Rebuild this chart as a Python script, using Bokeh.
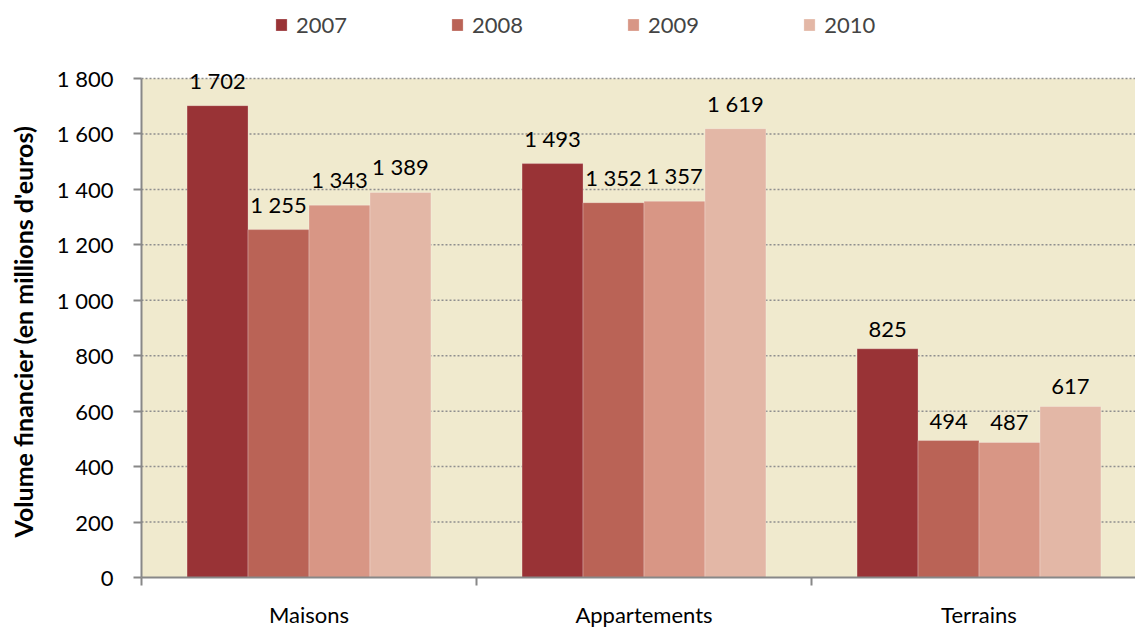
import math
from bokeh.plotting import figure
from bokeh.models import (ColumnDataSource, FixedTicker, Legend, LegendItem,
                          Range1d, LabelSet, BoxAnnotation, Label)
from bokeh.transform import dodge
from bokeh.core.properties import value
from bokeh.embed import file_html
from bokeh.resources import INLINE

categories = ["Maisons", "Appartements", "Terrains"]
years = ["2007", "2008", "2009", "2010"]
v2007 = [1702, 1493, 825]
v2008 = [1255, 1352, 494]
v2009 = [1343, 1357, 487]
v2010 = [1389, 1619, 617]
y_ticks = [0, 200, 400, 600, 800, 1000, 1200, 1400, 1600, 1800]
y_title = "Volume financier  (en millions d'euros)"

colors = ["#993336", "#BA6356", "#D89685", "#E3B7A6"]
BG = "#F0EACE"
AXIS_C = "#888888"
FONT = "Lato"
Y_MAX = 1800

# layout (pixels)
W, H = 1135, 631
PLOT_LEFT = 141      # where the plotting area starts
GROUP_PX = 335       # width of one category group
AXIS_Y = 577         # pixel row of the x axis
TOP_Y = 78           # pixel row of Y_MAX


def fmt(v):
    return f"{v:,}".replace(",", " ")


series = [v2007, v2008, v2009, v2010]
centers = [i + 0.5 for i in range(len(categories))]
data = {"x": centers}
for yr, vals in zip(years, series):
    data["v" + yr] = vals
    data["t" + yr] = [fmt(v) for v in vals]
source = ColumnDataSource(data)

px_per_unit = (AXIS_Y - TOP_Y) / Y_MAX
x_start = -PLOT_LEFT / GROUP_PX
x_end = (W - PLOT_LEFT) / GROUP_PX
y_start = -(H - AXIS_Y) / px_per_unit
y_end = AXIS_Y / px_per_unit

p = figure(width=W, height=H, output_backend="svg", toolbar_location=None,
           x_range=Range1d(x_start, x_end), y_range=Range1d(y_start, y_end),
           min_border=0, background_fill_color="white",
           border_fill_color="white", outline_line_color=None)

p.add_layout(BoxAnnotation(left=0, bottom=0, top=Y_MAX, fill_color=BG,
                           fill_alpha=1, line_color=None, level="image"))

# dotted gridlines over the plotting area only
p.segment(x0=0, x1=x_end, y0=y_ticks[1:], y1=y_ticks[1:], line_color="#8f8f8f",
          line_dash="2 2", line_width=1.5, level="underlay")

bw = 0.182
offsets = [-1.5 * bw, -0.5 * bw, 0.5 * bw, 1.5 * bw]
items = []
for yr, col, off in zip(years, colors, offsets):
    r = p.vbar(x=dodge("x", off, range=p.x_range), top="v" + yr, width=bw,
               source=source, fill_color=col, line_color="white",
               line_alpha=0.25, line_width=1)
    items.append(LegendItem(label=yr, renderers=[r]))
    labels = LabelSet(x=dodge("x", off, range=p.x_range), y="v" + yr,
                      text="t" + yr, source=source, text_align="center",
                      text_baseline="bottom", y_offset=12,
                      text_font=value(FONT), text_font_size="22px",
                      text_color="black")
    p.add_layout(labels)

# x axis, pinned at y = 0
ax = p.xaxis[0]
ax.fixed_location = 0
ax.bounds = (0, x_end)
ax.ticker = FixedTicker(ticks=centers, minor_ticks=[0, 1, 2, 3])
ax.major_label_overrides = {c: n for c, n in zip(centers, categories)}
ax.major_tick_out = 0
ax.major_tick_in = 0
ax.minor_tick_out = 8
ax.minor_tick_in = 0
ax.minor_tick_line_color = AXIS_C
ax.minor_tick_line_width = 2
ax.axis_line_color = AXIS_C
ax.axis_line_width = 2
ax.major_label_standoff = 15
ax.major_label_text_font = FONT
ax.major_label_text_font_size = "22px"
ax.major_label_text_color = "black"

# y axis, pinned at the left edge of the plotting area
ay = p.yaxis[0]
ay.fixed_location = 0
ay.ticker = FixedTicker(ticks=y_ticks, minor_ticks=[])
ay.bounds = (0, Y_MAX)
ay.major_label_overrides = {t: fmt(t) for t in y_ticks}
ay.major_tick_out = 8
ay.major_tick_in = 0
ay.major_tick_line_color = AXIS_C
ay.major_tick_line_width = 2
ay.axis_line_color = AXIS_C
ay.axis_line_width = 2
ay.major_label_standoff = 20
ay.major_label_text_font = FONT
ay.major_label_text_font_size = "22px"
ay.major_label_text_color = "black"

# y axis title
lab_x = (22 - PLOT_LEFT) / GROUP_PX
lab_y = (AXIS_Y - 328) / px_per_unit
p.add_layout(Label(x=lab_x, y=lab_y, text=y_title, angle=math.pi / 2,
                   text_align="center", text_baseline="middle",
                   text_font=FONT, text_font_size="25px",
                   text_font_style="bold", text_color="black"))

p.xgrid.visible = False
p.ygrid.visible = False

legend = Legend(items=items, orientation="horizontal",
                location=(274, H - 38),
                glyph_width=14, glyph_height=15, label_standoff=8, spacing=103,
                padding=0, margin=0, border_line_color=None,
                background_fill_alpha=0, label_text_font=FONT,
                label_text_font_size="22px", label_height=15)
p.add_layout(legend)

open("out.html", "w").write(file_html(p, INLINE))
